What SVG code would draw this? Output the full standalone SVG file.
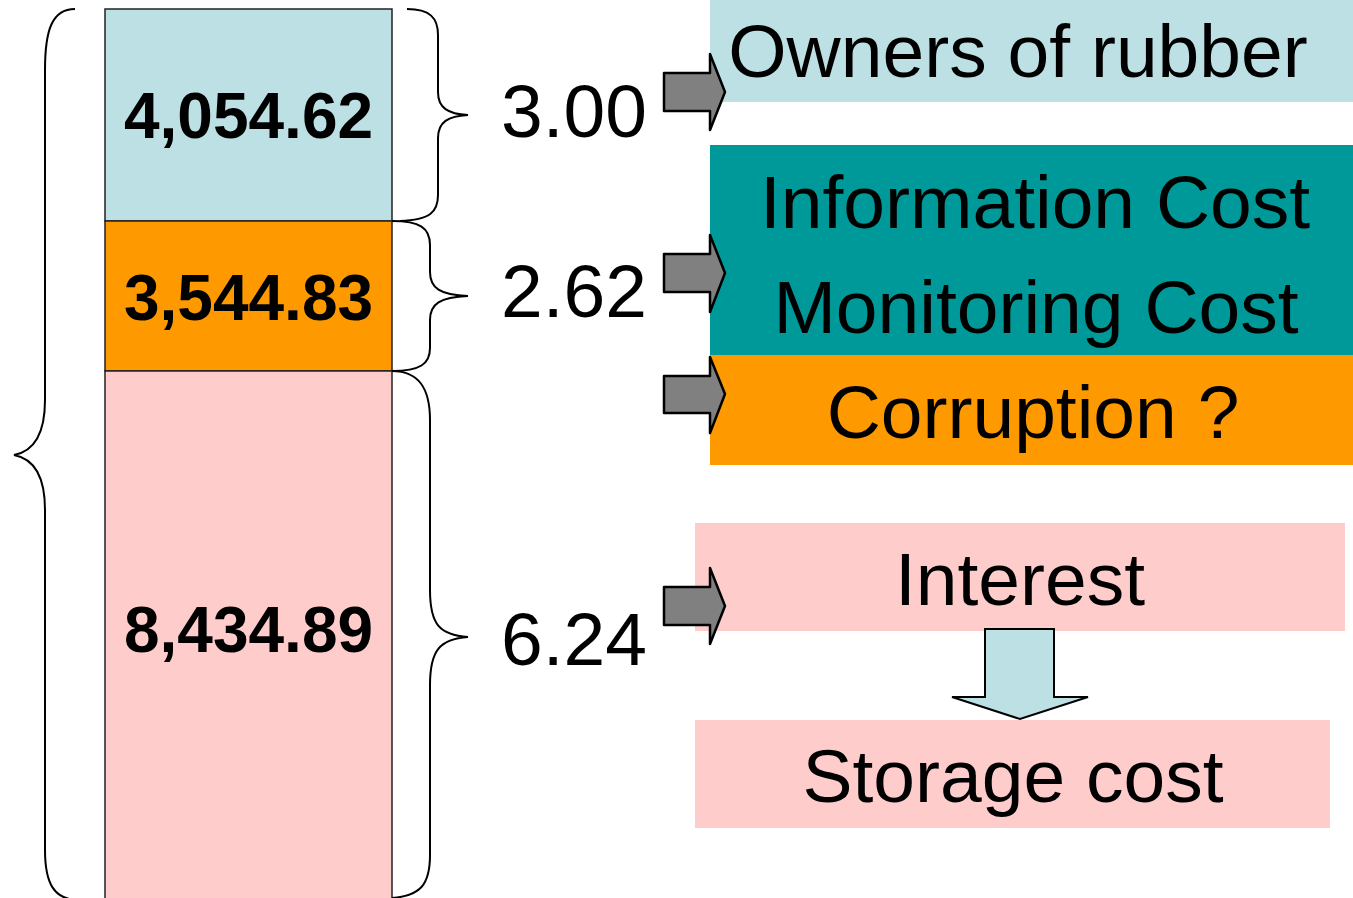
<svg xmlns="http://www.w3.org/2000/svg" width="1353" height="898" viewBox="0 0 1353 898">
<style>
.seg{stroke:#222;stroke-width:1.5}
.num{font-family:"Liberation Sans",Arial,sans-serif;font-weight:bold;font-size:64px;text-anchor:middle;fill:#000}
.val{font-family:"Liberation Sans",Arial,sans-serif;font-size:75px;text-anchor:middle;fill:#000}
.lbl{font-family:"Liberation Sans",Arial,sans-serif;font-size:75px;text-anchor:middle;fill:#000}
.brace{fill:none;stroke:#000;stroke-width:2}
.garrow{fill:#808080;stroke:#000;stroke-width:2.5;stroke-linejoin:round}
</style>
<rect width="1353" height="898" fill="#fff"/>
<g id="column">
<g id="seg-top"><rect class="seg" x="105" y="9" width="287" height="212" fill="#BCE0E3"/><text class="num" x="248.5" y="138">4,054.62</text></g>
<g id="seg-mid"><rect class="seg" x="105" y="221" width="287" height="150" fill="#FF9900"/><text class="num" x="248.5" y="320">3,544.83</text></g>
<g id="seg-bot"><rect class="seg" x="105" y="371" width="287" height="540" fill="#FFCCCC"/><text class="num" x="248.5" y="652">8,434.89</text></g>
</g>
<g id="braces">
<path class="brace" d="M75,9 C52,9 45,30 45,70 L45,400 C45,440 30,452 14,455 C30,458 45,470 45,510 L45,850 C45,885 55,898 75,900"/>
<path class="brace" d="M407,9 C430,9 438,18 438,35 L438,92 C438,108 448,114 468,115 C448,116 438,122 438,138 L438,195 C438,212 430,220 400,221"/>
<path class="brace" d="M392,221 C420,221 430,228 430,245 L430,272 C430,288 440,295 468,296 C440,297 430,304 430,320 L430,348 C430,364 420,371 392,371"/>
<path class="brace" d="M392,371 C420,371 430,390 430,420 L430,590 C430,625 440,635 468,637 C440,639 430,650 430,685 L430,855 C430,885 420,896 392,898"/>
</g>
<g id="values">
<text class="val" x="574" y="137">3.00</text>
<text class="val" x="574" y="317">2.62</text>
<text class="val" x="574" y="665">6.24</text>
</g>
<g id="owners"><rect x="710" y="0" width="643" height="102" fill="#BCE0E3"/><text class="lbl" x="1018" y="77">Owners of rubber</text></g>
<g id="info"><rect x="710" y="145" width="643" height="210" fill="#009999"/><text class="lbl" x="1035" y="228">Information Cost</text><text class="lbl" x="1036" y="333">Monitoring Cost</text></g>
<g id="corruption"><rect x="710" y="355" width="643" height="110" fill="#FF9900"/><text class="lbl" x="1033" y="438">Corruption ?</text></g>
<g id="interest"><rect x="695" y="523" width="650" height="108" fill="#FFCCCC"/><text class="lbl" x="1020" y="605">Interest</text></g>
<g id="storage"><rect x="695" y="720" width="635" height="108" fill="#FFCCCC"/><text class="lbl" x="1013" y="802">Storage cost</text></g>
<g id="connectors">
<path class="garrow" d="M664,73 L710,73 L710,54 L725,92 L710,130 L710,111 L664,111 Z"/>
<path class="garrow" d="M664,254 L710,254 L710,235 L725,273 L710,312 L710,292 L664,292 Z"/>
<path class="garrow" d="M664,376 L710,376 L710,357 L725,394 L710,433 L710,413 L664,413 Z"/>
<path class="garrow" d="M664,587 L710,587 L710,568 L725,606 L710,644 L710,625 L664,625 Z"/>
<path d="M985,629 L1054,629 L1054,697 L1088,697 L1020,719 L952,697 L985,697 Z" fill="#BCE0E3" stroke="#000" stroke-width="2" stroke-linejoin="miter"/>
</g>
</svg>
